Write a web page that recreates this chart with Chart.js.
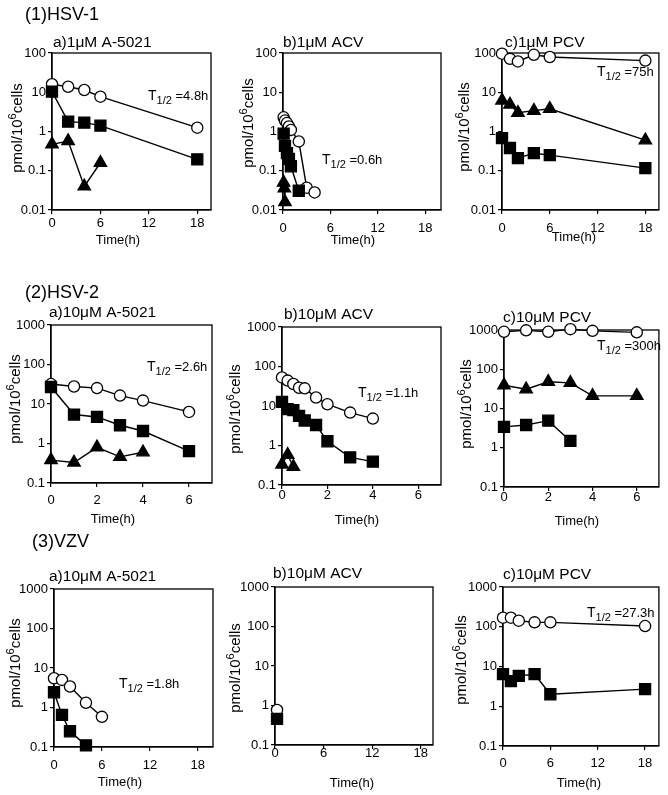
<!DOCTYPE html>
<html>
<head>
<meta charset="utf-8">
<script src="https://cdn.jsdelivr.net/npm/chart.js@4"></script>
<style>
  body { margin: 0; background: #fff; }
  #wrap { position: relative; width: 668px; height: 795px; }
  #wrap canvas { position: absolute; left: 0; top: 0; }
</style>
</head>
<body>
<div id="wrap"></div>
<script>
// tick labels
const longHourTicks = [0, 6, 12, 18];
const shortHourTicks = [0, 2, 4, 6];
const ticksTo100 = [0.01, 0.1, 1, 10, 100];
const ticksTo1000 = [0.1, 1, 10, 100, 1000];

// (1) HSV-1
const hsv1A5021Hours = [0, 2, 4, 6, 18];
const hsv1A5021Circle = [16, 13.8, 11.4, 7.7, 1.25];
const hsv1A5021Square = [10.4, 1.78, 1.68, 1.41, 0.195];
const hsv1A5021TriHours = [0, 2, 4, 6];
const hsv1A5021Tri = [0.47, 0.57, 0.04, 0.16];

const hsv1AcvCircleHours = [0.08, 0.25, 0.5, 0.75, 1, 2, 3, 4];
const hsv1AcvCircle = [2.3, 1.9, 1.64, 1.34, 1.1, 0.56, 0.037, 0.028];
const hsv1AcvSquareHours = [0.08, 0.25, 0.5, 0.75, 1, 2];
const hsv1AcvSquare = [0.88, 0.43, 0.28, 0.2, 0.13, 0.031];
const hsv1AcvTriHours = [0.08, 0.17, 0.25];
const hsv1AcvTri = [0.05, 0.036, 0.016];

const hsv1PcvHours = [0, 1, 2, 4, 6, 18];
const hsv1PcvCircle = [96, 71, 61, 90, 79, 64];
const hsv1PcvTri = [6.2, 4.9, 3.0, 3.4, 3.8, 0.6];
const hsv1PcvSquare = [0.68, 0.38, 0.21, 0.28, 0.25, 0.117];

// (2) HSV-2
const hsv2A5021Hours = [0, 1, 2, 3, 4, 6];
const hsv2A5021Circle = [32, 27.8, 25.3, 16.3, 12.2, 6.3];
const hsv2A5021Square = [26.9, 5.4, 4.7, 2.9, 2.07, 0.64];
const hsv2A5021TriHours = [0, 1, 2, 3, 4];
const hsv2A5021Tri = [0.38, 0.33, 0.8, 0.46, 0.6];

const hsv2AcvHours = [0, 0.25, 0.5, 0.75, 1, 1.5, 2, 3, 4];
const hsv2AcvCircle = [53, 44, 36, 29, 28, 16.4, 11.1, 6.8, 4.8];
const hsv2AcvSquare = [12.7, 8.3, 7.9, 5.6, 4.3, 3.3, 1.28, 0.5, 0.39];
const hsv2AcvTriHours = [0, 0.25, 0.5];
const hsv2AcvTri = [0.33, 0.58, 0.29];

const hsv2PcvHours = [0, 1, 2, 3, 4, 6];
const hsv2PcvCircle = [900, 980, 900, 1050, 950, 870];
const hsv2PcvTri = [39, 31, 48, 45, 21, 21];
const hsv2PcvSquareHours = [0, 1, 2, 3];
const hsv2PcvSquare = [3.4, 3.8, 4.9, 1.49];

// (3) VZV
const vzvA5021CircleHours = [0, 1, 2, 4, 6];
const vzvA5021Circle = [5.5, 5.0, 3.4, 1.32, 0.58];
const vzvA5021SquareHours = [0, 1, 2, 4];
const vzvA5021Square = [2.43, 0.65, 0.25, 0.11];

const vzvAcvHours = [0.25];
const vzvAcvCircle = [0.77];
const vzvAcvSquare = [0.46];

const vzvPcvHours = [0, 1, 2, 4, 6, 18];
const vzvPcvCircle = [169, 169, 142, 129, 129, 104];
const vzvPcvSquare = [6.4, 4.3, 5.8, 6.4, 2.0, 2.7];

const FONT = '"Liberation Sans", Arial, Helvetica, sans-serif';
const Y_W = 40, X_H = 30;

// page layout of each panel: plot box [left, top, right, bottom]
const panels = [
  { header: ['(1)HSV-1', 25, 15], title: ['a)1\u03bcM A-5021', 53, 43], box: [52, 53, 211, 210],
    xMax: 19.7, xTicks: longHourTicks, yTicks: ticksTo100, xPad: 2,
    xTitle: [118, 240], yTitle: [18, 128], half: ['4.8h', 148, 96],
    series: [['square', hsv1A5021Hours, hsv1A5021Square], ['circle', hsv1A5021Hours, hsv1A5021Circle],
             ['triangle', hsv1A5021TriHours, hsv1A5021Tri]] },
  { title: ['b)1\u03bcM ACV', 283, 43], box: [283, 53, 441, 210],
    xMax: 20, xTicks: longHourTicks, yTicks: ticksTo100, xPad: 7,
    xTitle: [353, 240], yTitle: [249, 123], half: ['0.6h', 322, 160],
    series: [['square', hsv1AcvSquareHours, hsv1AcvSquare], ['circle', hsv1AcvCircleHours, hsv1AcvCircle],
             ['triangle', hsv1AcvTriHours, hsv1AcvTri]] },
  { title: ['c)1\u03bcM PCV', 505, 43], box: [502, 53, 661, 210],
    xMax: 19.7, xTicks: longHourTicks, yTicks: ticksTo100, xPad: 7,
    xTitle: [574, 237], yTitle: [465, 127], half: ['75h', 597, 72],
    series: [['square', hsv1PcvHours, hsv1PcvSquare], ['circle', hsv1PcvHours, hsv1PcvCircle],
             ['triangle', hsv1PcvHours, hsv1PcvTri]] },

  { header: ['(2)HSV-2', 25, 293], title: ['a)10\u03bcM A-5021', 49, 313], box: [51, 325, 212, 483],
    xMax: 7, xTicks: shortHourTicks, yTicks: ticksTo1000, xPad: 6,
    xTitle: [113, 519], yTitle: [16, 399], half: ['2.6h', 147, 367],
    series: [['square', hsv2A5021Hours, hsv2A5021Square], ['circle', hsv2A5021Hours, hsv2A5021Circle],
             ['triangle', hsv2A5021TriHours, hsv2A5021Tri]] },
  { title: ['b)10\u03bcM ACV', 284, 315], box: [282, 327, 441, 485],
    xMax: 7, xTicks: shortHourTicks, yTicks: ticksTo1000, xPad: -1,
    xTitle: [357, 520], yTitle: [236, 409], half: ['1.1h', 358, 393],
    series: [['square', hsv2AcvHours, hsv2AcvSquare], ['circle', hsv2AcvHours, hsv2AcvCircle],
             ['triangle', hsv2AcvTriHours, hsv2AcvTri]] },
  { title: ['c)10\u03bcM PCV', 503, 318], box: [504, 330, 663, 487],
    xMax: 7, xTicks: shortHourTicks, yTicks: ticksTo1000, xPad: -1,
    xTitle: [577, 521], yTitle: [467, 404], half: ['300h', 597, 346],
    series: [['square', hsv2PcvSquareHours, hsv2PcvSquare], ['circle', hsv2PcvHours, hsv2PcvCircle],
             ['triangle', hsv2PcvHours, hsv2PcvTri]] },

  { header: ['(3)VZV', 32, 542], title: ['a)10\u03bcM A-5021', 49, 577], box: [54, 589, 213, 747],
    xMax: 19.9, xTicks: longHourTicks, yTicks: ticksTo1000, xPad: 7,
    xTitle: [120, 782], yTitle: [16, 663], half: ['1.8h', 119, 684],
    series: [['square', vzvA5021SquareHours, vzvA5021Square], ['circle', vzvA5021CircleHours, vzvA5021Circle]] },
  { title: ['b)10\u03bcM ACV', 273, 574], box: [275, 587, 433, 745],
    xMax: 19.5, xTicks: longHourTicks, yTicks: ticksTo1000, xPad: -3,
    xTitle: [352, 783], yTitle: [236, 668], half: null,
    series: [['square', vzvAcvHours, vzvAcvSquare], ['circle', vzvAcvHours, vzvAcvCircle]] },
  { title: ['c)10\u03bcM PCV', 503, 575], box: [503, 587, 663, 746],
    xMax: 19.75, xTicks: longHourTicks, yTicks: ticksTo1000, xPad: 6,
    xTitle: [579, 783], yTitle: [462, 660], half: ['27.3h', 587, 613],
    series: [['square', vzvPcvHours, vzvPcvSquare], ['circle', vzvPcvHours, vzvPcvCircle]] }
];

const markers = {
  circle: { pointStyle: 'circle', pointRadius: 5.6, pointBackgroundColor: '#fff' },
  square: { pointStyle: 'rect', pointRadius: 7.8, pointBackgroundColor: '#000' },
  triangle: { pointStyle: 'triangle', pointRadius: 7.2, pointBackgroundColor: '#000' }
};

function makeDecor(p) {
  return {
    id: 'decor',
    beforeDatasetsDraw(chart) {
      const a = chart.chartArea, ctx = chart.ctx;
      ctx.save();
      ctx.strokeStyle = '#000';
      ctx.lineWidth = 1.3;
      ctx.strokeRect(a.left, a.top, a.right - a.left, a.bottom - a.top);
      ctx.restore();
    },
    afterDraw(chart) {
      const ctx = chart.ctx;
      ctx.save();
      ctx.fillStyle = '#000';
      ctx.textBaseline = 'middle';
      ctx.textAlign = 'left';
      if (p.header) {
        ctx.font = '18px ' + FONT;
        ctx.fillText(p.header[0], p.header[1], p.header[2]);
      }
      ctx.font = '15.5px ' + FONT;
      ctx.fillText(p.title[0], p.title[1], p.title[2]);

      ctx.font = '13px ' + FONT;
      ctx.textAlign = 'center';
      ctx.fillText('Time(h)', p.xTitle[0], p.xTitle[1]);

      // pmol/10^6cells, rotated
      ctx.save();
      ctx.translate(p.yTitle[0], p.yTitle[1]);
      ctx.rotate(-Math.PI / 2);
      ctx.textAlign = 'left';
      ctx.font = '15px ' + FONT;
      const w1 = ctx.measureText('pmol/10').width;
      const w3 = ctx.measureText('cells').width;
      ctx.font = '11px ' + FONT;
      const w2 = ctx.measureText('6').width;
      let x = -(w1 + w2 + w3) / 2;
      ctx.font = '15px ' + FONT;
      ctx.fillText('pmol/10', x, 0);
      ctx.font = '11px ' + FONT;
      ctx.fillText('6', x + w1, -5);
      ctx.font = '15px ' + FONT;
      ctx.fillText('cells', x + w1 + w2, 0);
      ctx.restore();

      if (p.half) {
        let hx = p.half[1];
        const hy = p.half[2];
        ctx.textAlign = 'left';
        ctx.font = '14px ' + FONT;
        ctx.fillText('T', hx, hy);
        hx += ctx.measureText('T').width;
        ctx.font = '11px ' + FONT;
        ctx.fillText('1/2', hx, hy + 5);
        hx += ctx.measureText('1/2').width;
        ctx.font = '13px ' + FONT;
        ctx.fillText(' =' + p.half[0], hx, hy);
      }
      ctx.restore();
    }
  };
}

const wrap = document.getElementById('wrap');

panels.forEach(p => {
  const canvas = document.createElement('canvas');
  canvas.width = 668;
  canvas.height = 795;
  wrap.appendChild(canvas);

  const datasets = p.series.map(s => Object.assign({
    data: s[1].map((h, i) => ({ x: h, y: s[2][i] })),
    showLine: true,
    borderColor: '#000',
    borderWidth: 1.4,
    pointBorderColor: '#000',
    pointBorderWidth: 1.3,
    clip: false
  }, markers[s[0]]));

  const [L, T, R, B] = p.box;
  const tickFont = { family: FONT, size: 13 };

  new Chart(canvas, {
    type: 'scatter',
    data: { datasets: datasets },
    options: {
      responsive: false,
      animation: false,
      events: [],
      layout: { padding: { left: L - Y_W, top: T, right: 668 - R, bottom: 795 - B - X_H } },
      plugins: { legend: { display: false }, tooltip: { enabled: false } },
      scales: {
        x: {
          type: 'linear', min: 0, max: p.xMax,
          afterBuildTicks: s => { s.ticks = p.xTicks.map(v => ({ value: v })); },
          afterFit: s => { s.height = X_H; },
          grid: { display: true, drawOnChartArea: false, drawTicks: true, tickLength: 4, color: '#000', lineWidth: 1.2 },
          border: { display: true, color: '#000', width: 1.3 },
          ticks: { color: '#000', font: tickFont, padding: p.xPad, maxRotation: 0, autoSkip: false }
        },
        y: {
          type: 'logarithmic', min: p.yTicks[0], max: p.yTicks[p.yTicks.length - 1],
          afterBuildTicks: s => { s.ticks = p.yTicks.map(v => ({ value: v })); },
          afterFit: s => { s.width = Y_W; },
          grid: { display: true, drawOnChartArea: false, drawTicks: true, tickLength: 4, color: '#000', lineWidth: 1.2 },
          border: { display: true, color: '#000', width: 1.3 },
          ticks: { color: '#000', font: tickFont, padding: 2, autoSkip: false, callback: v => String(v) }
        }
      }
    },
    plugins: [makeDecor(p)]
  });
});
</script>
</body>
</html>
